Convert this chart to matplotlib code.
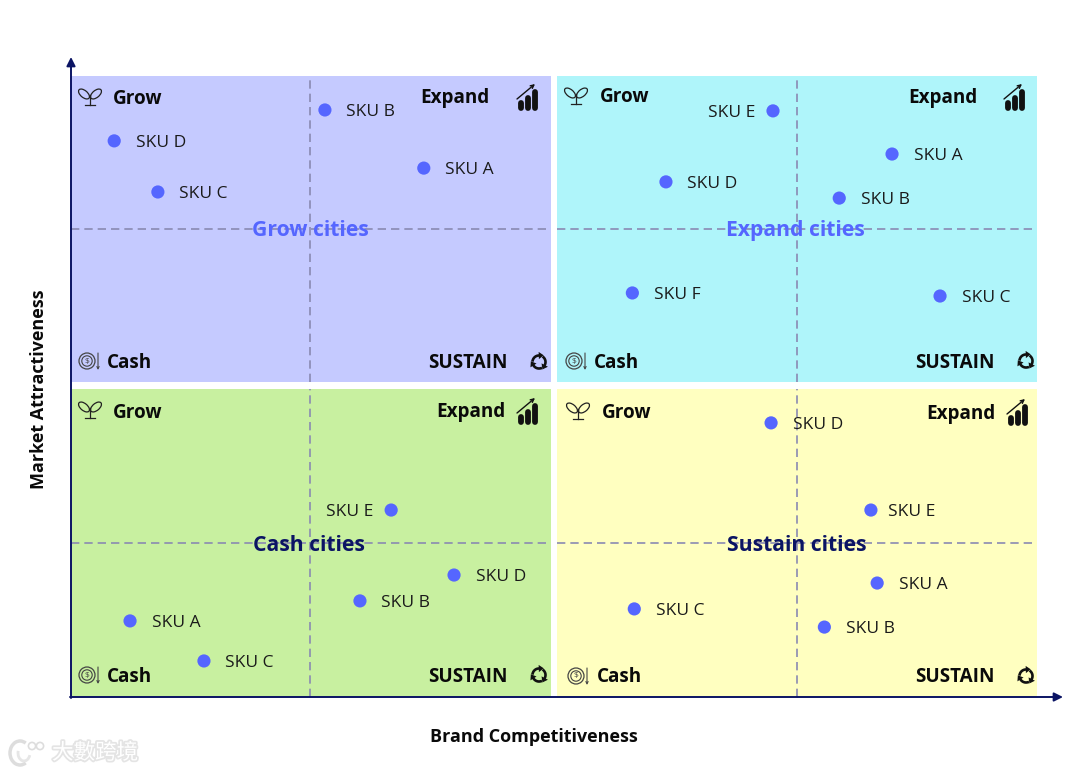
import matplotlib
matplotlib.use("Agg")
import matplotlib.pyplot as plt
import numpy as np
from matplotlib.patches import Circle, Ellipse, FancyArrowPatch, Polygon, Arc
from matplotlib import patheffects as pe

W, H = 1080, 772

# sku positions inside each quadrant, 0-100 on both axes
grow_names = ["SKU B", "SKU D", "SKU C", "SKU A"]
grow_x = [52.9, 9.0, 18.1, 73.5]
grow_y = [88.9, 78.8, 62.1, 69.9]

expand_names = ["SKU E", "SKU A", "SKU D", "SKU B", "SKU F", "SKU C"]
expand_x = [45.0, 69.8, 22.7, 58.8, 15.7, 79.8]
expand_y = [88.6, 74.5, 65.4, 60.1, 29.1, 28.1]

cash_names = ["SKU E", "SKU D", "SKU B", "SKU A", "SKU C"]
cash_x = [66.7, 79.8, 60.2, 12.3, 27.7]
cash_y = [60.7, 39.6, 31.2, 24.7, 11.7]

sustain_names = ["SKU D", "SKU E", "SKU A", "SKU C", "SKU B"]
sustain_x = [44.6, 65.4, 66.7, 16.1, 55.7]
sustain_y = [89.0, 60.7, 37.0, 28.6, 22.7]

DOT = "#5566ff"
NAVY = "#0b1464"
FONT = "Open Sans"


def sprout(ov, x, y):
    ov.plot([x, x], [y - 2, y + 8], color="#222222", lw=0.9)
    ov.plot([x - 5, x + 5], [y + 8, y + 8], color="#222222", lw=0.9)
    ov.add_patch(Ellipse((x - 6, y - 3), 13, 7, angle=40, fc="none", ec="#222222", lw=0.9))
    ov.add_patch(Ellipse((x + 6, y - 3), 13, 7, angle=-40, fc="none", ec="#222222", lw=0.9))


def bars(ov, x, y):
    for dx, top in [(-7, 5), (0, 0), (7, -6)]:
        ov.plot([x + dx, x + dx], [y + top, y + 10], color="#111111", lw=4.2,
                solid_capstyle="round")
    ov.add_patch(FancyArrowPatch((x - 11, y + 1), (x + 7, y - 14), arrowstyle="->",
                                 mutation_scale=6, lw=1.0, color="#111111", shrinkA=0, shrinkB=0))


def coin(ov, x, y):
    ov.add_patch(Circle((x - 1, y), 8, fc="none", ec="#444444", lw=0.9))
    ov.add_patch(Circle((x - 1, y), 5.2, fc="none", ec="#444444", lw=0.8))
    ov.text(x - 1, y, "$", ha="center", va="center", fontsize=6, color="#444444", family=FONT)
    ov.add_patch(FancyArrowPatch((x + 10, y - 8), (x + 10, y + 9), arrowstyle="->",
                                 mutation_scale=4, lw=0.8, color="#444444", shrinkA=0, shrinkB=0))


def recycle(ov, x, y):
    r = 6.5
    for start in (-60, 60, 180):
        a = np.radians(np.linspace(start + 15, start + 88, 12))
        ov.plot(x + r * np.cos(a), y + r * np.sin(a), color="#111111", lw=1.9)
        e = a[-1]
        px, py = x + r * np.cos(e), y + r * np.sin(e)
        tx, ty = -np.sin(e), np.cos(e)
        nx, ny = np.cos(e), np.sin(e)
        ov.add_patch(Polygon([(px + tx * 5, py + ty * 5), (px + nx * 3.6, py + ny * 3.6),
                              (px - nx * 3.6, py - ny * 3.6)], fc="#111111", ec="none"))


def panel(fig, box, color, names, xs, ys, left_names=(), near_names=(), vx=50):
    x0, y0, x1, y1 = box
    ax = fig.add_axes([x0 / W, 1 - y1 / H, (x1 - x0) / W, (y1 - y0) / H])
    ax.set_facecolor(color)
    ax.set_xlim(0, 100)
    ax.set_ylim(0, 100)
    ax.set_xticks([])
    ax.set_yticks([])
    for s in ax.spines.values():
        s.set_visible(False)
    ax.axvline(vx, color="#8a8ab2", lw=1.2, ls=(0, (5, 3)), zorder=1)
    ax.axhline(50, color="#8a8ab2", lw=1.2, ls=(0, (5, 3)), zorder=1)
    ax.scatter(xs, ys, s=90, color=DOT, edgecolors="none", zorder=3)
    for n, a, b in zip(names, xs, ys):
        if n in left_names:
            off, ha = -13, "right"
        elif n in near_names:
            off, ha = 12.5, "left"
        else:
            off, ha = 15.5, "left"
        ax.annotate(n, (a, b), xytext=(off, -1.2), textcoords="offset points", ha=ha,
                    va="center", fontsize=12.5, family=FONT, color="#1a1a1a")


def bold(ov, x, y, s, ha="left", size=13.6, color="#0a0a0a"):
    ov.text(x, y + 1.5, s, ha=ha, va="center", fontsize=size, fontweight="bold", family=FONT, color=color)


def main():
    fig = plt.figure(figsize=(W / 100, H / 100), dpi=100, facecolor="white")

    panel(fig, (71, 76, 551, 382), "#c5caff", grow_names, grow_x, grow_y, vx=49.8)
    panel(fig, (557, 76, 1037, 382), "#aff5fa", expand_names, expand_x, expand_y, ("SKU E",))
    panel(fig, (71, 389, 551, 697), "#c8f0a0", cash_names, cash_x, cash_y, ("SKU E",), vx=49.8)
    panel(fig, (557, 389, 1037, 697), "#ffffc0", sustain_names, sustain_x, sustain_y, (), ("SKU E",))

    # overlay in pixel coords for labels, icons, arrows
    ov = fig.add_axes([0, 0, 1, 1], zorder=5)
    ov.set_xlim(0, W)
    ov.set_ylim(H, 0)
    ov.axis("off")
    ov.patch.set_alpha(0)

    corners = [
        ((113, 97), (489, 97), (107, 362), (508, 362), (90, 97), (528, 98), (88, 361), (539, 362)),
        ((600, 96), (977, 96), (594, 361), (995, 361), (576, 96), (1015, 98), (575, 361), (1026, 361)),
        ((113, 411), (505, 411), (107, 676), (508, 676), (90, 410), (528, 412), (88, 675), (539, 675)),
        ((602, 411), (995, 412), (597, 676), (995, 676), (578, 411), (1018, 413), (577, 676), (1026, 676)),
    ]
    for g, e, c, s, i1, i2, i3, i4 in corners:
        bold(ov, g[0], g[1], "Grow")
        bold(ov, e[0], e[1], "Expand", ha="right")
        bold(ov, c[0], c[1], "Cash")
        bold(ov, s[0], s[1], "SUSTAIN", ha="right")
        sprout(ov, *i1)
        bars(ov, *i2)
        coin(ov, *i3)
        recycle(ov, *i4)

    center_labels = [
        (310, 229, "Grow cities", DOT),
        (795, 229, "Expand cities", DOT),
        (309, 544, "Cash cities", NAVY),
        (797, 544, "Sustain cities", NAVY),
    ]
    for x, y, s, c in center_labels:
        bold(ov, x, y, s, ha="center", size=15.2, color=c)

    ov.add_patch(FancyArrowPatch((71, 698), (71, 57), arrowstyle="-|>", mutation_scale=13,
                                 lw=1.4, color=NAVY, shrinkA=0, shrinkB=0))
    ov.add_patch(FancyArrowPatch((70, 697), (1063, 697), arrowstyle="-|>", mutation_scale=13,
                                 lw=1.4, color=NAVY, shrinkA=0, shrinkB=0))

    ov.text(534, 737, "Brand Competitiveness", ha="center", va="center", fontsize=13,
            fontweight="bold", family=FONT, color="#0a0a0a")
    ov.text(39, 389, "Market Attractiveness", ha="center", va="center", rotation=90,
            fontsize=13, fontweight="bold", family=FONT, color="#0a0a0a")

    # watermark
    halo = [pe.withStroke(linewidth=2.5, foreground="#e4e4e4")]
    ov.text(52, 753, "大數跨境", ha="left", va="center", fontsize=15.5, color="white",
            family=["Noto Sans CJK TC", "DejaVu Sans"], path_effects=halo)
    for x, y, r in [(32, 746, 3.6), (40, 746, 3.6)]:
        ov.add_patch(Circle((x, y), r, fc="none", ec="#dddddd", lw=1.2))
    ov.add_patch(Arc((20, 753), 20, 24, theta1=60, theta2=300, color="#dddddd", lw=2.5))
    ov.add_patch(Arc((24, 753), 12, 16, theta1=20, theta2=200, color="#e6e6e6", lw=2))

    fig.savefig("out.png", dpi=100)
    plt.close(fig)


if __name__ == "__main__":
    main()
